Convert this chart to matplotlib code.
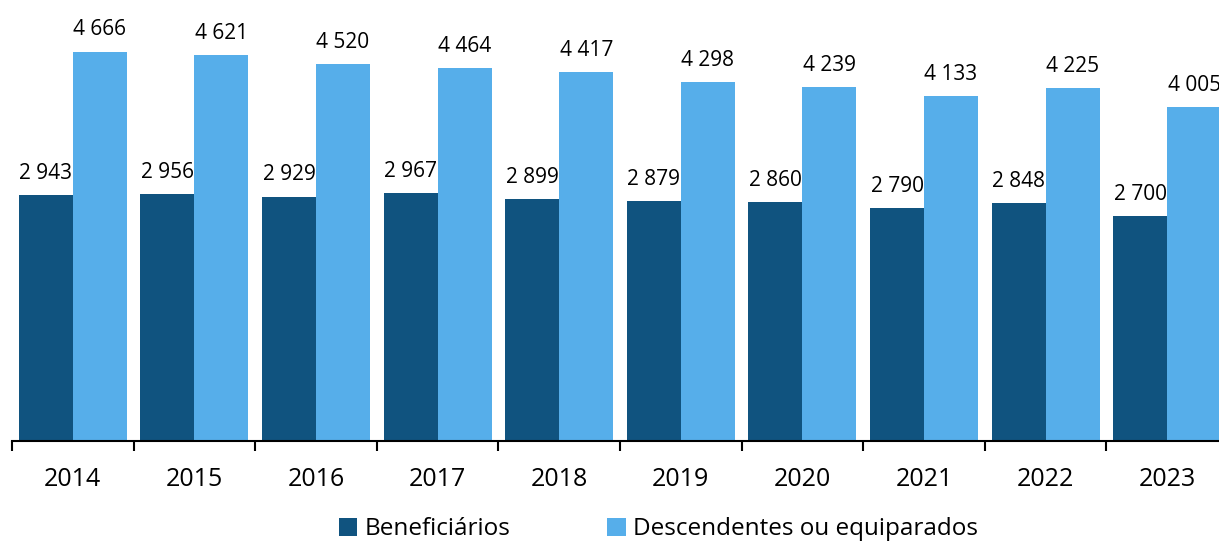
import numpy as np
import matplotlib.pyplot as plt

years = ["2014", "2015", "2016", "2017", "2018", "2019", "2020", "2021", "2022", "2023"]
beneficiarios = [2943, 2956, 2929, 2967, 2899, 2879, 2860, 2790, 2848, 2700]
descendentes = [4666, 4621, 4520, 4464, 4417, 4298, 4239, 4133, 4225, 4005]

dark = "#10537F"
light = "#56AEEA"

plt.rcParams["font.family"] = ["Open Sans", "DejaVu Sans"]


def fmt(v):
    # thousands separated by a space
    return f"{v:,}".replace(",", " ")


fig = plt.figure(figsize=(12.19, 5.41), dpi=100)
# axes runs a bit past the right edge, like the original (last label is cut)
ax = fig.add_axes([12 / 1219, 100 / 541, 1216 / 1219, 434 / 541])

x = np.arange(len(years))
w = 0.444
b1 = ax.bar(x - w / 2, beneficiarios, w, color=dark, label="Beneficiários")
b2 = ax.bar(x + w / 2, descendentes, w, color=light, label="Descendentes ou equiparados")

for bars, vals in ((b1, beneficiarios), (b2, descendentes)):
    for bar, v in zip(bars, vals):
        ax.annotate(fmt(v), (bar.get_x() + bar.get_width() / 2, v),
                    xytext=(0, 8), textcoords="offset points",
                    ha="center", va="bottom", fontsize=15, color="black",
                    annotation_clip=False)

ax.set_xlim(-0.5, len(years) - 0.5)
ax.set_ylim(0, 5200)

ax.set_xticks(x)
ax.set_xticklabels(years, fontsize=18)
ax.tick_params(axis="x", which="major", length=0, pad=19)
ax.set_xticks(np.arange(len(years) + 1) - 0.5, minor=True)
ax.tick_params(axis="x", which="minor", length=7, width=1.5, color="black")
ax.set_yticks([])

for s in ("top", "right", "left"):
    ax.spines[s].set_visible(False)
ax.spines["bottom"].set_linewidth(1.5)
ax.spines["bottom"].set_color("black")

fig.legend(loc="center", bbox_to_anchor=(0.54, 0.022), ncol=2, frameon=False,
           fontsize=17.5, handlelength=0.75, handleheight=0.75, handletextpad=0.3,
           columnspacing=4.0, borderaxespad=0)

fig.savefig("out.png", dpi=100)
